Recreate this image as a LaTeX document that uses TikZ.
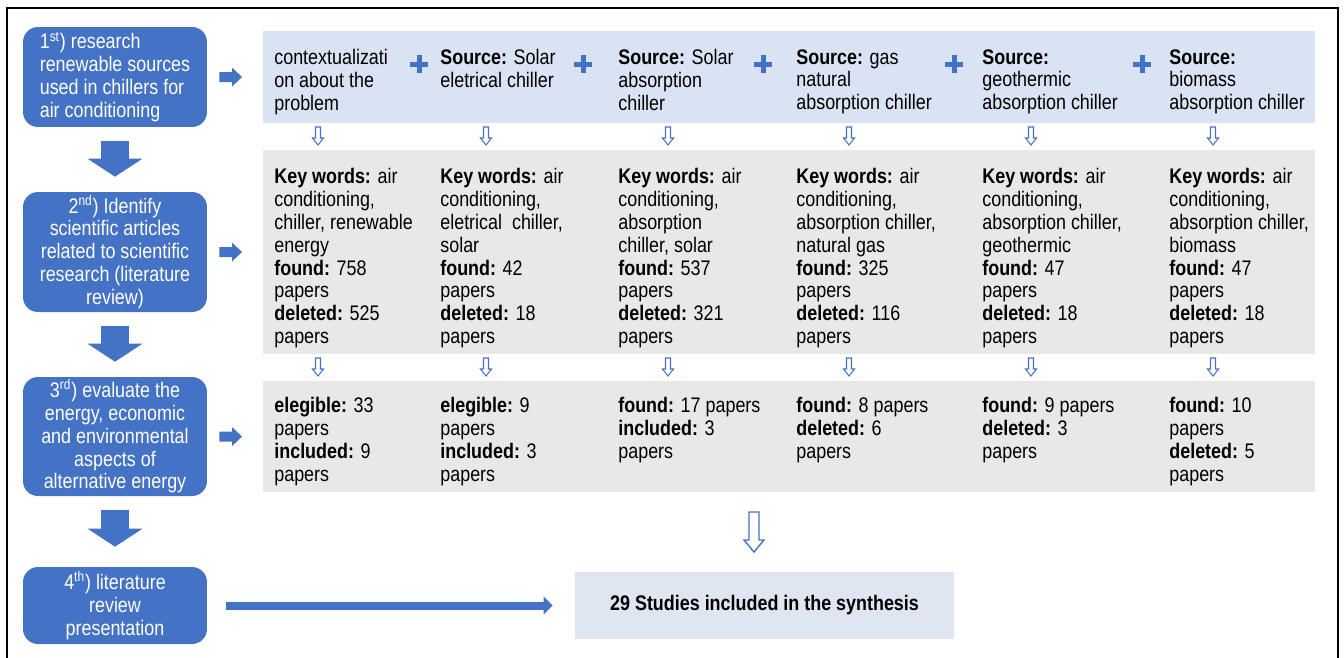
\documentclass[tikz,border=0pt]{standalone}
\usepackage{fontspec}
\setmainfont{Liberation Sans}[FakeStretch=0.85]
\usetikzlibrary{arrows.meta}
\definecolor{stepblue}{HTML}{4472C4}
\definecolor{srcblue}{HTML}{DAE3F3}
\definecolor{kwgray}{HTML}{E8E8E8}
\definecolor{synblue}{HTML}{DFE6F2}
\begin{document}
\begin{tikzpicture}[x=.02cm,y=-.02cm,
  every node/.style={font=\fontsize{12}{13}\selectfont,inner sep=0pt},
  stepbox/.style={fill=stepblue,rounded corners=.3cm,text=white,minimum width=3.68cm},
  band/.style={anchor=north west,minimum width=21.04cm},
  col/.style={anchor=north west,align=left},
  bigdown/.style={draw=stepblue,line width=.56cm,-{Triangle[width=1.1cm,length=.36cm,line width=0pt]},shorten <=.28cm,shorten >=.3cm},
  sidearr/.style={draw=stepblue,line width=.2cm,-{Triangle[width=.38cm,length=.2cm,line width=0pt]},shorten <=.24cm,shorten >=.42cm},
  hdown/.pic={\draw[stepblue,line width=.6pt] (-2.5,0)--(2.5,0)--(2.5,11)--(5.5,11)--(0,18)--(-5.5,11)--(-2.5,11)--cycle;},
  bighdown/.pic={\draw[stepblue,line width=.8pt] (-5,0)--(5,0)--(5,28)--(10,28)--(0,40)--(-10,28)--(-5,28)--cycle;},
  plus/.pic={\draw[stepblue,line width=.1cm] (-9,0)--(9,0) (0,-9)--(0,9);}]
\useasboundingbox (0,0) rectangle (1344,657);
\draw[line width=.7pt] (7,660) -- (7,8) -- (1338,8) -- (1338,660);
% steps
\node[stepbox,minimum height=2cm,align=left] (s1) at (115,77) {1\textsuperscript{st}) research\\renewable sources\\used in chillers for\\air conditioning};
\node[stepbox,minimum height=2.4cm,align=center] (s2) at (115,252) {2\textsuperscript{nd}) Identify\\scientific articles\\related to scientific\\research (literature\\review)};
\node[stepbox,minimum height=2.38cm,align=center] (s3) at (115,436.5) {3\textsuperscript{rd}) evaluate the\\energy, economic\\and environmental\\aspects of\\alternative energy};
\node[stepbox,minimum height=1.54cm,align=center] (s4) at (115,605.5) {4\textsuperscript{th}) literature\\review\\presentation};
\draw[bigdown] (s1) -- (s2); \draw[bigdown] (s2) -- (s3); \draw[bigdown,shorten >=.4cm] (s3) -- (s4);
% bands
\node[band,fill=srcblue,minimum height=1.84cm] (srcband) at (263,31) {};
\node[band,fill=kwgray,minimum height=4.08cm] (kwband) at (263,150) {};
\node[band,fill=kwgray,minimum height=2.22cm] (selband) at (263,381) {};
\draw[sidearr] (s1) -- (srcband); \draw[sidearr] (s2) -- (kwband); \draw[sidearr] (s3) -- (selband);
% sources
\node[col] (src1) at (274,49) {contextualizati\\on about the\\problem};
\node[col] (src2) at (440,49) {\textbf{Source:} Solar\\eletrical chiller};
\node[col] (src3) at (618,49) {\textbf{Source:} Solar\\absorption\\chiller};
\node[col] (src4) at (796,49) {\textbf{Source:} gas\\natural\\absorption chiller};
\node[col] (src5) at (982,49) {\textbf{Source:}\\geothermic\\absorption chiller};
\node[col] (src6) at (1169,49) {\textbf{Source:}\\biomass\\absorption chiller};
\pic at (419,64) {plus}; \pic at (583,64) {plus}; \pic at (763,64) {plus}; \pic at (954,64) {plus}; \pic at (1142,64) {plus};
\pic at (318,127) {hdown}; \pic at (486,127) {hdown}; \pic at (668,127) {hdown}; \pic at (849,127) {hdown}; \pic at (1031,127) {hdown}; \pic at (1213,127) {hdown};
% key words
\node[col] (kw1) at (274,168) {\textbf{Key words:} air\\conditioning,\\chiller, renewable\\energy\\\textbf{found:} 758\\papers\\\textbf{deleted:} 525\\papers};
\node[col] (kw2) at (440,168) {\textbf{Key words:} air\\conditioning,\\eletrical~ chiller,\\solar\\\textbf{found:} 42\\papers\\\textbf{deleted:} 18\\papers};
\node[col] (kw3) at (618,168) {\textbf{Key words:} air\\conditioning,\\absorption\\chiller, solar\\\textbf{found:} 537\\papers\\\textbf{deleted:} 321\\papers};
\node[col] (kw4) at (796,168) {\textbf{Key words:} air\\conditioning,\\absorption chiller,\\natural gas\\\textbf{found:} 325\\papers\\\textbf{deleted:} 116\\papers};
\node[col] (kw5) at (982,168) {\textbf{Key words:} air\\conditioning,\\absorption chiller,\\geothermic\\\textbf{found:} 47\\papers\\\textbf{deleted:} 18\\papers};
\node[col] (kw6) at (1169,168) {\textbf{Key words:} air\\conditioning,\\absorption chiller,\\biomass\\\textbf{found:} 47\\papers\\\textbf{deleted:} 18\\papers};
\pic at (318,358) {hdown}; \pic at (486,358) {hdown}; \pic at (668,358) {hdown}; \pic at (849,358) {hdown}; \pic at (1031,358) {hdown}; \pic at (1213,358) {hdown};
% selection
\node[col] (sel1) at (274,397) {\textbf{elegible:} 33\\papers\\\textbf{included:} 9\\papers};
\node[col] (sel2) at (440,397) {\textbf{elegible:} 9\\papers\\\textbf{included:} 3\\papers};
\node[col] (sel3) at (618,397) {\textbf{found:} 17 papers\\\textbf{included:} 3\\papers};
\node[col] (sel4) at (796,397) {\textbf{found:} 8 papers\\\textbf{deleted:} 6\\papers};
\node[col] (sel5) at (982,397) {\textbf{found:} 9 papers\\\textbf{deleted:} 3\\papers};
\node[col] (sel6) at (1169,397) {\textbf{found:} 10\\papers\\\textbf{deleted:} 5\\papers};
\pic at (754,512) {bighdown};
% synthesis
\node[fill=synblue,minimum width=7.58cm,minimum height=1.34cm] (syn) at (764.5,605.5) {\textbf{29 Studies included in the synthesis}};
\draw[draw=stepblue,line width=.16cm,-{Triangle[width=.36cm,length=.18cm,line width=0pt]},shorten <=.38cm,shorten >=.44cm] (s4) -- (syn);
\end{tikzpicture}
\end{document}
